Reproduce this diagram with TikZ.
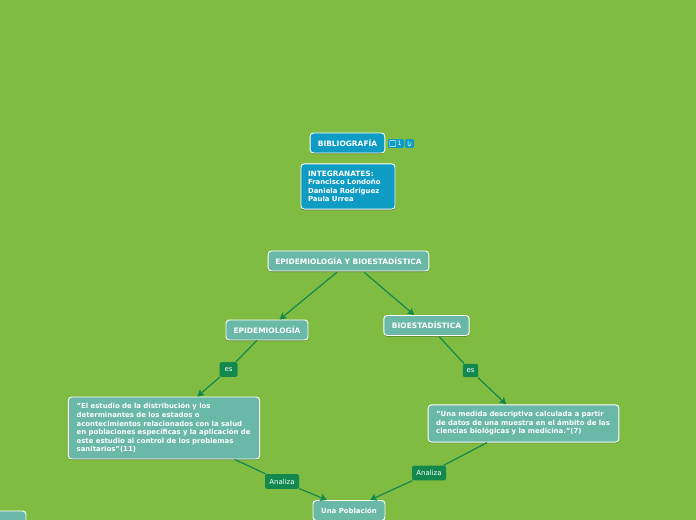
\documentclass[tikz,border=0pt]{standalone}
\usepackage{fontspec}
\usepackage{xcolor}
\setmainfont{DejaVu Sans}
\usetikzlibrary{arrows.meta, positioning, shadows}
\definecolor{mybg}{RGB}{128,188,65}
\definecolor{myteal}{RGB}{106,184,168}
\definecolor{myblue}{RGB}{15,156,196}
\definecolor{mygreen}{RGB}{18,136,79}
\tikzset{
box/.style={rounded corners=2.5pt, draw=white, line width=0.7pt, fill=myteal, text=white,
  font=\fontsize{5.6}{6.4}\selectfont\bfseries, inner sep=0pt, drop shadow={shadow xshift=0pt, shadow yshift=-0.8pt, opacity=0.35, fill=black}},
bluebox/.style={box, fill=myblue},
textbox/.style={box, font=\fontsize{5.2}{6.4}\selectfont\bfseries, align=left},
tag/.style={rounded corners=1.5pt, fill=mygreen, text=white, font=\fontsize{5.2}{6}\selectfont, inner sep=0pt},
icon/.style={rounded corners=1pt, fill=myblue, text=white, font=\fontsize{4.6}{5}\selectfont, inner sep=0pt},
link/.style={draw=mygreen, line width=0.9pt},
arrow/.style={link, -{Stealth[length=5pt,width=5.5pt,inset=1pt]}}
}
\begin{document}
\begin{tikzpicture}[x=0.75pt,y=-0.75pt]
\useasboundingbox (0,0) rectangle (696,520);
\clip (0,0) rectangle (696,520);
\fill[mybg] (0,0) rectangle (696,520);

% top
\node[bluebox, minimum width=56pt, minimum height=15pt] (biblio) at (347.5,143) {BIBLIOGRAFÍA};
\node[icon, minimum width=12pt, minimum height=6.6pt] (comment) at (396,143.5) {\hspace*{5.5pt}1};
\draw[white, line width=0.35pt, rounded corners=0.4pt] ([xshift=1.5pt,yshift=-1.4pt]comment.north west) rectangle ([xshift=6pt,yshift=1.4pt]comment.south west);
\node[icon, minimum width=6.8pt, minimum height=6.6pt] (clip) at (409.5,143.5) {};
\draw[white, line width=0.35pt, line cap=round] ([xshift=-1.1pt,yshift=1.9pt]clip.center) -- ([xshift=-1.1pt,yshift=-0.8pt]clip.center) arc[start angle=180, end angle=360, radius=1.1pt] -- ([xshift=1.1pt,yshift=0.8pt]clip.center);
\node[textbox, bluebox, font=\fontsize{5.2}{6.4}\selectfont\bfseries, align=left, minimum width=70.5pt, minimum height=34pt, text width=60pt] (team) at (348,186.5)
{{\fontsize{5.5}{6.4}\selectfont INTEGRANATES:}\\Francisco Londoño\\Daniela Rodríguez\\Paula Urrea};

% main nodes
\node[box, minimum width=120.5pt, minimum height=15pt] (root) at (348.5,261) {EPIDEMIOLOGÍA Y BIOESTADÍSTICA};
\node[box, minimum width=61.5pt, minimum height=15pt] (epi) at (267,330) {EPIDEMIOLOGÍA};
\node[box, minimum width=64pt, minimum height=15pt] (bio) at (426.5,325.5) {BIOESTADÍSTICA};
\node[textbox, minimum width=143.5pt, minimum height=46.5pt, text width=131pt] (epidef) at (164,428)
{"El estudio de la distribución y los\\determinantes de los estados o\\acontecimientos relacionados con la salud\\en poblaciones específicas y la aplicación de\\este estudio al control de los problemas\\sanitarios"(11)};
\node[textbox, minimum width=143pt, minimum height=28pt, text width=131pt] (biodef) at (523.5,423.5)
{"Una medida descriptiva calculada a partir\\de datos de una muestra en el ámbito de las\\ciencias biológicas y la medicina."(7)};
\node[textbox, minimum width=54pt, minimum height=15pt, align=center] (pop) at (349,510.5) {Una Población};
\node[box, minimum width=60pt, minimum height=30pt] (cut) at (-14,531) {};

% labels
\node[tag, minimum width=13.5pt, minimum height=11pt] (es1) at (228.5,369.5) {es};
\node[tag, minimum width=11.5pt, minimum height=10pt] (es2) at (470.5,370.5) {es};
\node[tag, minimum width=25.5pt, minimum height=11pt] (an1) at (282,481.5) {Analiza};
\node[tag, minimum width=25.5pt, minimum height=11pt] (an2) at (429,473) {Analiza};

% connectors
\draw[arrow, shorten <=1pt] ([xshift=-8pt]root.south) -- (epi);
\draw[arrow, shorten <=1pt] ([xshift=11pt]root.south) -- (bio);
\draw[link] (epi) -- (es1);
\draw[arrow] (es1) -- ([xshift=25pt]epidef.north);
\draw[link, shorten <=1pt] ([xshift=9pt]bio.south) -- (es2);
\draw[arrow] (es2) -- ([xshift=-13pt]biodef.north);
\draw[link] ([xshift=53pt]epidef.south) -- (an1);
\draw[arrow] (an1) -- ([xshift=-16.5pt]pop.north);
\draw[link] (biodef) -- (an2);
\draw[arrow] (an2) -- ([xshift=15.75pt]pop.north);
\end{tikzpicture}
\end{document}
